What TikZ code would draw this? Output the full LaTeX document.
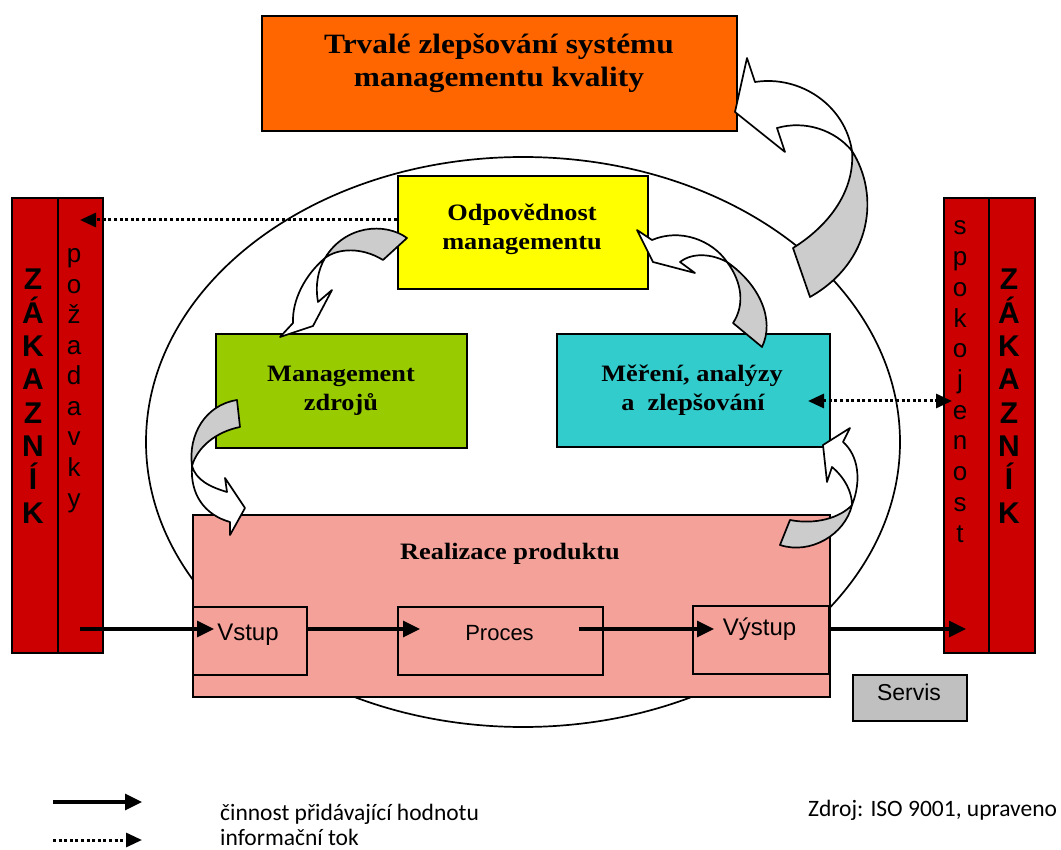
\documentclass[tikz,border=0pt]{standalone}
\usepackage{fontspec}
\setmainfont{Liberation Serif}
\newfontfamily\headfont[FakeStretch=1.12]{Liberation Serif}
\newfontfamily\sansf{Liberation Sans}
\newfontfamily\notefont{Carlito}
\usetikzlibrary{arrows.meta}

\definecolor{qorange}{HTML}{FF6600}
\definecolor{qyellow}{HTML}{FFFF00}
\definecolor{qgreen}{HTML}{99CC00}
\definecolor{qcyan}{HTML}{33CCCC}
\definecolor{qpink}{HTML}{F4A19A}
\definecolor{qred}{HTML}{CC0000}
\definecolor{qgrey}{HTML}{C0C0C0}
\definecolor{qband}{HTML}{CCCCCC}

\begin{document}
\begin{tikzpicture}[x=1pt,y=-1pt,
  box/.style={draw=black, line width=2.2pt, inner sep=0pt, anchor=north west},
  bar/.style={draw=black, line width=1.8pt, fill=qred, inner sep=0pt, anchor=north west,
              minimum height=455pt},
  head/.style={inner sep=0pt, anchor=base, font=\headfont\bfseries\fontsize{28}{33}\selectfont},
  sub/.style={inner sep=0pt, anchor=base, font=\headfont\bfseries\fontsize{23.5}{29}\selectfont},
  flowtxt/.style={inner sep=0pt, anchor=base, font=\sansf\fontsize{24}{28}\selectfont},
  bigletter/.style={inner sep=0pt, anchor=base, font=\sansf\bfseries\fontsize{30}{34}\selectfont},
  smallletter/.style={inner sep=0pt, anchor=base, font=\sansf\fontsize{26}{30}\selectfont},
  note/.style={inner sep=0pt, anchor=base west, font=\notefont\fontsize{23.5}{28}\selectfont},
  flow/.style={line width=3.3pt, -{Triangle[length=17pt,width=16pt]}},
  info/.style={line width=3pt, dash pattern=on 3pt off 2.6pt,
               -{Triangle[length=16pt,width=14pt]}},
  band/.style={draw=black, line width=1.7pt, line join=round},
]
% page
\fill[white] (0,0) rectangle (1061,850);
\useasboundingbox (0,0) rectangle (1061,850);

% surrounding ellipse
\draw[line width=1.7pt] (523,442) ellipse [x radius=377pt, y radius=285pt];

% top box
\node[box, fill=qorange, minimum width=475pt, minimum height=115pt] (trvale) at (261,15) {};
\node[head] (trvale1) at (499,54) {Trvalé zlepšování systému};
\node[head] (trvale2) at (499,87) {managementu kvality};

% process boxes
\node[box, fill=qyellow, minimum width=250pt, minimum height=113pt] (odpov) at (397,175) {};
\node[sub] (odpov1) at (522,221) {Odpovědnost};
\node[sub] (odpov2) at (522,250) {managementu};

\node[box, fill=qgreen, minimum width=251pt, minimum height=114pt] (zdroje) at (215,333) {};
\node[sub] (zdroje1) at (341,382) {Management};
\node[sub] (zdroje2) at (341,411) {zdrojů};

\node[box, fill=qcyan, minimum width=273pt, minimum height=113pt] (mereni) at (556,333) {};
\node[sub] (mereni1) at (692,382) {Měření, analýzy};
\node[sub] (mereni2) at (693,411) {a~~zlepšování};

\node[box, fill=qpink, minimum width=637pt, minimum height=182pt] (realiz) at (192,514) {};
\node[sub] (realiz1) at (510,559) {Realizace produktu};

\node[box, fill=qpink, minimum width=114pt, minimum height=68pt] (vstup) at (192,606) {};
\node[flowtxt] (vstupT) at (248,640) {Vstup};
\node[box, fill=qpink, minimum width=205pt, minimum height=68pt] (proces) at (397,606) {};
\node[flowtxt, font=\sansf\fontsize{22}{26}\selectfont] (procesT) at (499.5,640) {Proces};
\node[box, fill=qpink, minimum width=136pt, minimum height=68pt] (vystup) at (692,605) {};
\node[flowtxt] (vystupT) at (759.5,635) {Výstup};

\node[box, fill=qgrey, minimum width=114pt, minimum height=46pt] (servis) at (852,674) {};
\node[flowtxt, font=\sansf\fontsize{23}{27}\selectfont] (servisT) at (909,700) {Servis};

% customer columns
\node[bar, minimum width=46pt] (zakL) at (11,197) {};
\node[bar, minimum width=45pt] (pozad) at (57,197) {};
\node[bar, minimum width=45pt] (spokoj) at (943,197) {};
\node[bar, minimum width=46pt] (zakR) at (988,197) {};

\foreach \ch [count=\i] in {Z,Á,K,A,Z,N,Í,K} {
  \node[bigletter] (zl\i) at (33,{290+33.3*(\i-1)}) {\ch};
  \node[bigletter] (zr\i) at (1009,{290+33.3*(\i-1)}) {\ch};
}
\foreach \ch [count=\i] in {p,o,ž,a,d,a,v,k,y}
  \node[smallletter] (pz\i) at (74,{263+30.5*(\i-1)}) {\ch};
\foreach \ch [count=\i] in {s,p,o,k,o,j,e,n,o,s,t}
  \node[smallletter] (sp\i) at (960,{235+30.7*(\i-1)}) {\ch};

% connector end points
\coordinate (reqIn) at (80,220);
\coordinate (odpovOut) at (397,220);
\coordinate (merIn) at (808,401);
\coordinate (spokIn) at (952,401);
\coordinate (zakOut) at (80,629);
\coordinate (vstupIn) at (214,629);
\coordinate (vstupOut) at (306,629);
\coordinate (procesIn) at (420,629);
\coordinate (procesOut) at (579,629);
\coordinate (vystupIn) at (714,629);
\coordinate (vystupOut) at (829,629);
\coordinate (zakIn) at (966,629);

% information flows
\draw[info] (odpovOut) -- (reqIn);
\draw[info, {Triangle[length=16pt,width=14pt]}-{Triangle[length=16pt,width=14pt]}] (merIn) -- (spokIn);

% value adding flow
\draw[flow] (zakOut) -- (vstupIn);
\draw[flow] (vstupOut) -- (procesIn);
\draw[flow] (procesOut) -- (vystupIn);
\draw[flow] (vystupOut) -- (zakIn);

% curved band arrows: grey back side, white front side with head
% improvement loop to the top box
\filldraw[band, fill=qband] (852,151) .. controls (880,195) and (872,262) .. (810,297)
  -- (793,248) .. controls (830,225) and (855,190) .. (852,151) -- cycle;
\filldraw[band, fill=white] (755,82) .. controls (800,75) and (845,105) .. (852,151)
  .. controls (835,130) and (805,120) .. (777,128) -- (785,152) -- (735,112) -- (747,58) -- cycle;

% management responsibility -> resource management
\filldraw[band, fill=qband] (383,260) .. controls (362,247) and (338,248) .. (325,258)
  .. controls (345,225) and (385,222) .. (407,238) -- cycle;
\filldraw[band, fill=white] (325,258) .. controls (305,275) and (292,300) .. (293,323)
  -- (280,337) -- (313,326) -- (332,290) -- (318,302)
  .. controls (315,285) and (318,270) .. (325,258) -- cycle;

% measurement -> management responsibility
\filldraw[band, fill=qband] (727,262) .. controls (760,285) and (775,320) .. (762,347)
  -- (733,323) .. controls (745,305) and (742,282) .. (727,262) -- cycle;
\filldraw[band, fill=white] (637,230) -- (652,240) .. controls (680,228) and (712,240) .. (727,262)
  .. controls (712,254) and (693,252) .. (680,262) -- (695,273) -- (653,262) -- cycle;

% resource management -> product realization
\filldraw[band, fill=qband] (237,400) -- (240,427) .. controls (215,432) and (197,448) .. (192,466)
  .. controls (188,435) and (205,405) .. (237,400) -- cycle;
\filldraw[band, fill=white] (192,466) .. controls (190,495) and (205,515) .. (230,522)
  -- (230,535) -- (245,508) -- (225,478) -- (227,492)
  .. controls (210,487) and (196,480) .. (192,466) -- cycle;

% product realization -> measurement
\filldraw[band, fill=qband] (790,520) .. controls (815,525) and (840,518) .. (852,505)
  .. controls (845,535) and (810,555) .. (780,545) -- cycle;
\filldraw[band, fill=white] (852,505) .. controls (862,480) and (858,455) .. (843,442)
  -- (850,428) -- (823,445) -- (827,482) -- (832,467)
  .. controls (845,478) and (852,492) .. (852,505) -- cycle;

% legend
\coordinate (legA1) at (53,802);
\coordinate (legA2) at (142,802);
\coordinate (legB1) at (53,840);
\coordinate (legB2) at (142,840);
\draw[flow] (legA1) -- (legA2);
\draw[info] (legB1) -- (legB2);
\node[note] (legAT) at (220,820) {činnost přidávající hodnotu};
\node[note] (legBT) at (220,845) {informační tok};
\node[note] (zdroj) at (808,816) {Zdroj: ISO 9001, upraveno};
\end{tikzpicture}
\end{document}
